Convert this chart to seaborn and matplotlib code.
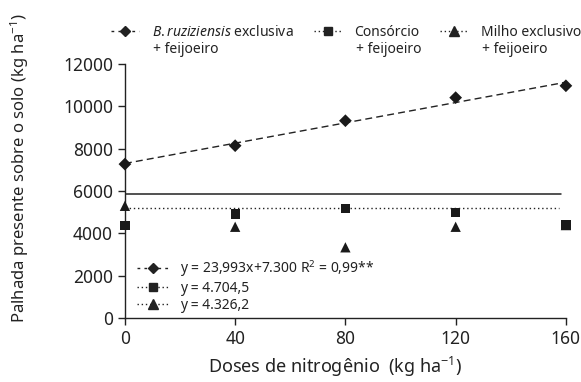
import matplotlib
matplotlib.use("Agg")
import matplotlib.pyplot as plt
from matplotlib.lines import Line2D
import numpy as np
import pandas as pd
import seaborn as sns

# Data
doses = [0, 40, 80, 120, 160]
bruz = [7270, 8140, 9320, 10410, 10970]
consorcio = [4380, 4910, 5180, 4970, 4390]
milho = [5300, 4310, 3340, 4310, 4390]
reg_slope = 23.993
reg_intercept = 7300
hline_solid = 5840
hline_dotted = 5180

x_ticks = [0, 40, 80, 120, 160]
y_ticks = [0, 2000, 4000, 6000, 8000, 10000, 12000]

top_labels = ["$\\mathit{B.ruziziensis}$ exclusiva", "Consórcio", "Milho exclusivo"]
top_second = "+ feijoeiro"
eq_labels = ["y = 23,993x+7.300 R$^{2}$ = 0,99**", "y = 4.704,5", "y = 4.326,2"]

sns.set_theme(style="ticks")
plt.rcParams["font.family"] = ["Noto Sans", "DejaVu Sans"]
plt.rcParams["mathtext.fontset"] = "custom"
plt.rcParams["mathtext.rm"] = "Noto Sans"
plt.rcParams["mathtext.it"] = "Noto Sans:italic"
plt.rcParams["axes.unicode_minus"] = False

INK = "#222222"

fig = plt.figure(figsize=(5.81, 3.82), dpi=100)
ax = fig.add_axes([0.215, 0.1675, 0.759, 0.665])

df = pd.DataFrame({"dose": doses, "bruz": bruz, "cons": consorcio, "milho": milho})
fit = pd.DataFrame({"dose": [0, 160]})
fit["y"] = reg_intercept + reg_slope * fit["dose"]

sns.lineplot(data=fit, x="dose", y="y", ax=ax, color=INK, lw=1.0,
             linestyle=(0, (5, 3)))
ax.axhline(hline_solid, xmin=0, xmax=0.99, color=INK, lw=1.1)
ax.axhline(hline_dotted, xmin=0, xmax=0.985, color=INK, lw=1.0,
           linestyle=(0, (1, 2)))

kw = dict(ax=ax, color="#1a1a1a", edgecolor="none", clip_on=False, zorder=5, legend=False)
sns.scatterplot(data=df, x="dose", y="bruz", marker="D", s=42, **kw)
sns.scatterplot(data=df, x="dose", y="cons", marker="s", s=45, **kw)
sns.scatterplot(data=df, x="dose", y="milho", marker="^", s=55, **kw)

ax.set_xlim(0, 160)
ax.set_ylim(0, 12000)
ax.set_xticks(x_ticks)
ax.set_yticks(y_ticks)
ax.tick_params(labelsize=12.5, length=5, width=1, color=INK, labelcolor=INK)
for s in ["top", "right"]:
    ax.spines[s].set_visible(False)
for s in ["left", "bottom"]:
    ax.spines[s].set_linewidth(1)
    ax.spines[s].set_color(INK)

ax.set_xlabel("Doses de nitrogênio  (kg ha$^{-1}$)", fontsize=13, color=INK)
ax.set_ylabel("Palhada presente sobre o solo (kg ha$^{-1}$)", fontsize=12, color=INK)
ax.xaxis.set_label_coords(0.478, -0.145)
ax.yaxis.set_label_coords(-0.212, 0.59)

h_d = Line2D([], [], color=INK, lw=1, linestyle=(0, (2, 3)), marker="D", markersize=5.5)
h_s = Line2D([], [], color=INK, lw=1, linestyle=(0, (1, 2)), marker="s", markersize=5.5)
h_t = Line2D([], [], color=INK, lw=1, linestyle=(0, (1, 2)), marker="^", markersize=6.5)

top = fig.legend([h_d, h_s, h_t], top_labels,
                 ncol=3, loc="upper left", bbox_to_anchor=(0.182, 0.95),
                 frameon=False, fontsize=10, handlelength=2.0, handletextpad=0.9,
                 columnspacing=1.5, borderaxespad=0)
for t in top.get_texts():
    t.set_color(INK)

# second line of each top label, placed under the first
fig.canvas.draw()
inv = fig.transFigure.inverted()
for t in top.get_texts():
    bb = t.get_window_extent()
    x0, y0 = inv.transform((bb.x0, bb.y0))
    fig.text(x0 + 0.003, y0 - 0.005, top_second, fontsize=10, color=INK, va="top", ha="left")

bot = ax.legend([h_d, h_s, h_t], eq_labels,
                loc="lower left", bbox_to_anchor=(0.0, -0.03), frameon=False,
                fontsize=10, handlelength=2.2, handletextpad=0.9, labelspacing=0.15)
for t in bot.get_texts():
    t.set_color(INK)

fig.savefig("out.png", dpi=100)
